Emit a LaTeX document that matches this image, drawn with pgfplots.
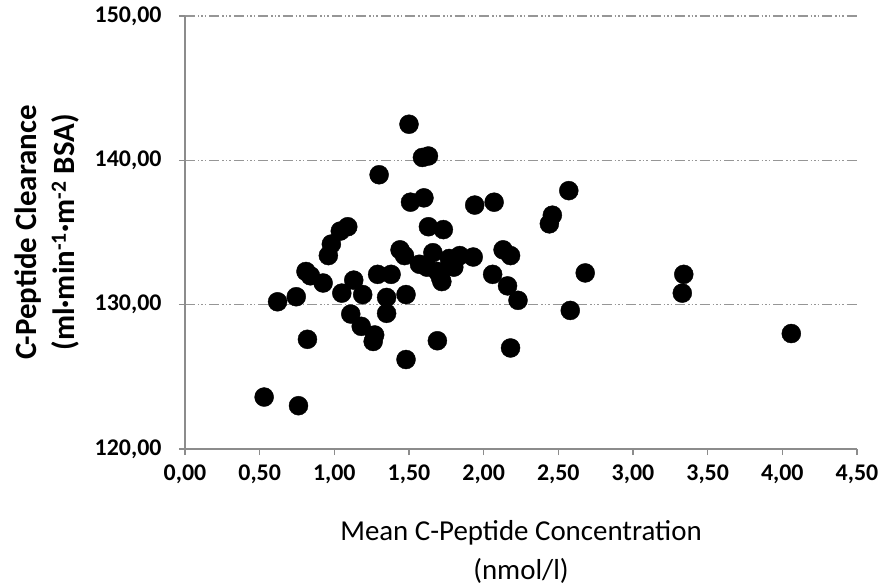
\documentclass[border=0pt]{standalone}
\usepackage{pgfplots}
\pgfplotsset{compat=1.18}
\usepackage{fontspec}
\setmainfont{Carlito}
\definecolor{axisgray}{RGB}{140,140,140}
\definecolor{gridgray}{RGB}{150,150,150}
\begin{document}
\begin{tikzpicture}
\path[use as bounding box] (-185bp,-139bp) rectangle (694bp,449bp);
\begin{axis}[
  at={(0,0)}, anchor=south west,
  scale only axis, width=672bp, height=433bp,
  xmin=0, xmax=4.5, ymin=120, ymax=150,
  xtick={0,0.5,1,1.5,2,2.5,3,3.5,4,4.5},
  ytick={120,130,140,150},
  axis x line*=bottom, axis y line*=left,
  axis line style={draw=axisgray, line width=1.5bp, -},
  tick align=outside,
  major tick length=6bp,
  major tick style={draw=axisgray, line width=1.5bp},
  ymajorgrids,
  major grid style={draw=gridgray, line width=1.5bp,
    dash pattern=on 10bp off 3bp on 1.5bp off 2bp on 1.5bp off 2bp on 1.5bp off 3bp},
  tick label style={font=\fontsize{24}{24}\selectfont\bfseries},
  /pgf/number format/.cd, fixed, fixed zerofill, precision=2, use comma, assume math mode=true,
  /pgfplots/.cd,
  xticklabel style={yshift=-6bp},
  yticklabel style={xshift=-14bp},
  xlabel={Mean C-Peptide Concentration\\(nmol/l)},
  xlabel style={at={(axis description cs:0.5,0)}, anchor=center, yshift=-103bp,
    align=center, font=\fontsize{29}{40}\selectfont},
  ylabel={C-Peptide Clearance\\(ml·min\textsuperscript{-1}·m\textsuperscript{-2} BSA)},
  ylabel style={at={(axis description cs:0,0.5)}, anchor=center, yshift=138bp,
    align=center, font=\fontsize{31}{39}\selectfont\bfseries},
  clip=false,
]
\addplot[only marks, mark=*, mark size=9.5bp, mark options={fill=black, draw=black}] table {
x y
0.53 123.6
0.76 123.0
0.62 130.2
0.745 130.55
0.82 127.6
0.81 132.3
0.84 132.0
0.925 131.5
0.96 133.4
0.98 134.2
1.04 135.1
1.09 135.4
1.05 130.8
1.11 129.35
1.13 131.7
1.18 128.5
1.19 130.7
1.26 127.45
1.27 127.9
1.30 139.0
1.29 132.1
1.38 132.1
1.35 130.5
1.35 129.4
1.44 133.8
1.47 133.4
1.48 130.7
1.48 126.2
1.50 142.5
1.51 137.1
1.60 137.4
1.59 140.2
1.63 140.3
1.63 135.4
1.73 135.2
1.57 132.8
1.62 132.6
1.66 133.6
1.69 132.3
1.71 131.9
1.72 131.6
1.77 133.2
1.80 132.6
1.84 133.4
1.93 133.3
1.69 127.5
1.94 136.9
2.07 137.1
2.06 132.1
2.13 133.8
2.18 133.4
2.16 131.3
2.18 127.0
2.23 130.3
2.44 135.6
2.46 136.2
2.57 137.9
2.58 129.6
2.68 132.2
3.34 132.1
3.33 130.8
4.06 128.0
};
\end{axis}
\end{tikzpicture}
\end{document}
